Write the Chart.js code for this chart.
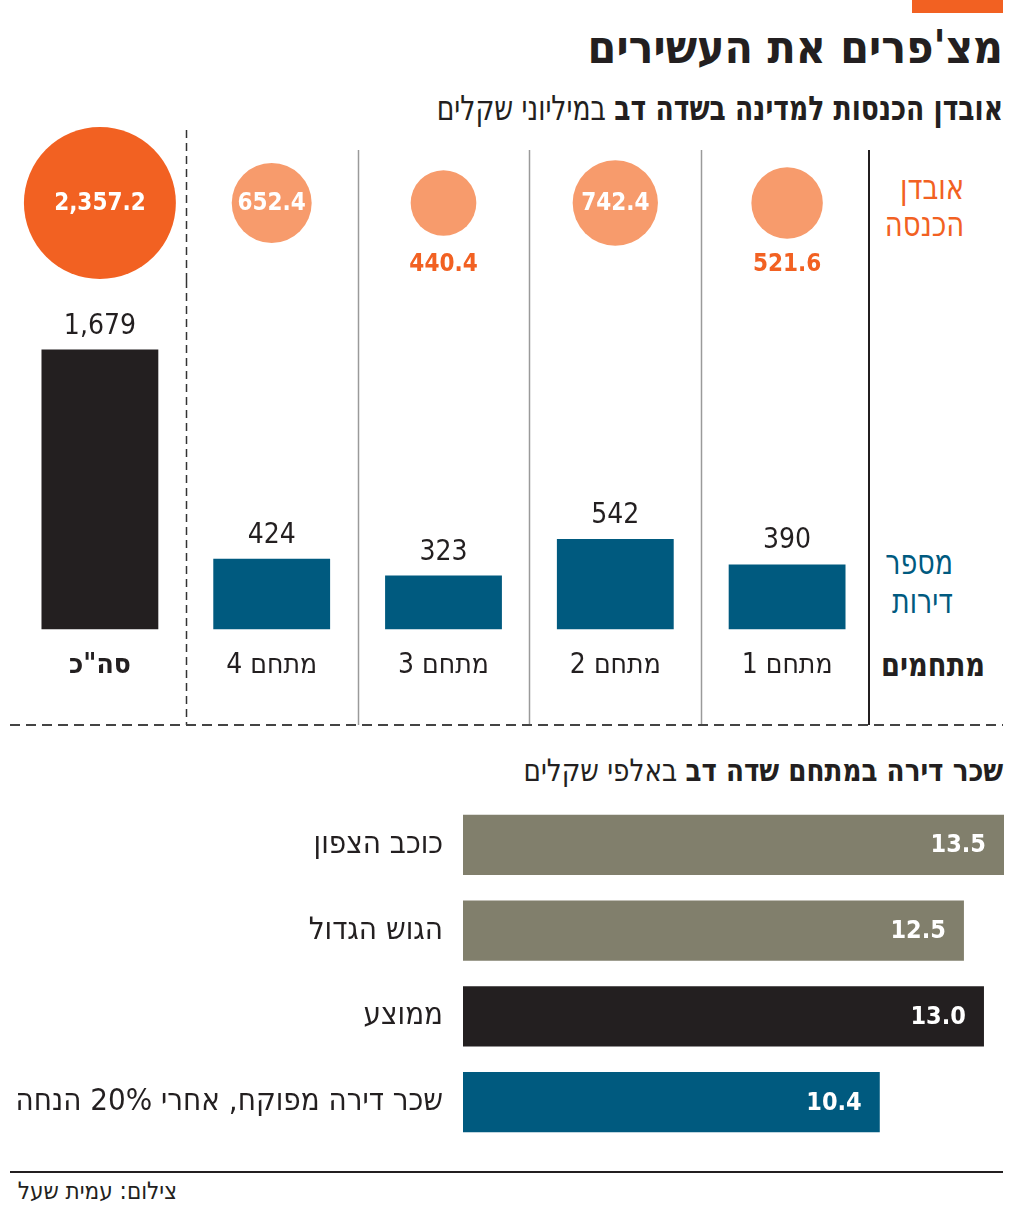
<!DOCTYPE html>
<html lang="he">
<head>
<meta charset="utf-8">
<script src="https://cdn.jsdelivr.net/npm/chart.js@4.4.1/dist/chart.umd.min.js"></script>
<style>
  html, body { margin: 0; padding: 0; background: #fff; }
  body {
    width: 1024px; height: 1211px; position: relative; overflow: hidden;
    font-family: 'DejaVu Sans Condensed', 'DejaVu Sans', sans-serif;
    color: #231f20;
  }
  .txt { position: absolute; direction: rtl; white-space: nowrap; line-height: 1; transform-origin: right center; }
  .box { position: absolute; left: 0; }
  #tag { position: absolute; left: 912px; top: 0; width: 91px; height: 13px; background: #f26122; }
  #title { right: 21px; top: 24px; font-size: 46px; font-weight: bold; }
  #subtitle { right: 21px; top: 91px; font-size: 34px; transform: scaleX(0.87); }
  #lossLbl { right: 60px; top: 169px; font-size: 34px; line-height: 37px; color: #f26122; transform: scaleX(0.9); }
  #unitsLbl { right: 71px; top: 543px; font-size: 34px; line-height: 39px; color: #005a7f; transform: scaleX(0.88); }
  #zonesLbl { right: 39px; top: 648px; font-size: 33px; font-weight: bold; transform: scaleX(0.92); }
  #rentTitle { right: 21px; top: 755px; font-size: 31px; transform: scaleX(0.94); }
  #rule { position: absolute; left: 10px; top: 1171px; width: 993px; height: 2px; background: #231f20; }
  #credit { right: 847px; top: 1179px; font-size: 24px; }
</style>
</head>
<body>
<div id="tag"></div>
<div class="txt" id="title">מצ'פרים את העשירים</div>
<div class="txt" id="subtitle"><b>אובדן הכנסות למדינה בשדה דב</b> במיליוני שקלים</div>
<div class="txt" id="lossLbl">אובדן<br>הכנסה</div>
<div class="txt" id="unitsLbl">מספר<br>דירות</div>
<div class="txt" id="zonesLbl">מתחמים</div>
<div class="txt" id="rentTitle"><b>שכר דירה במתחם שדה דב</b> באלפי שקלים</div>

<div class="box" style="top:120px"><canvas id="lossChart" width="1024" height="160"></canvas></div>
<div class="box" style="top:280px"><canvas id="unitsChart" width="1024" height="450"></canvas></div>
<div class="box" style="top:800px"><canvas id="rentChart" width="1024" height="350"></canvas></div>

<div id="rule"></div>
<div class="txt" id="credit">צילום: עמית שעל</div>

<script>
// zones, right to left in the picture
const zones = ['מתחם 1', 'מתחם 2', 'מתחם 3', 'מתחם 4', 'סה"כ'];
// revenue loss, millions of shekels
const revenueLoss = [521.6, 742.4, 440.4, 652.4, 2357.2];
// number of apartments
const apartments = [390, 542, 323, 424, 1679];

// rent in the Sde Dov compound, thousands of shekels
const rentLabels = ['כוכב הצפון', 'הגוש הגדול', 'ממוצע', 'שכר דירה מפוקח, אחרי 20% הנחה'];
const rentValues = [13.5, 12.5, 13.0, 10.4];

const FONT = "'DejaVu Sans Condensed', 'DejaVu Sans', sans-serif";
const INK = '#231f20';
const ORANGE = '#f26122';
const SALMON = '#f79b6c';
const BLUE = '#005a7f';
const OLIVE = '#817f6c';

Chart.defaults.font.family = FONT;
Chart.defaults.color = INK;

const lossColors = zones.map((z, i) => i === zones.length - 1 ? ORANGE : SALMON);
const barColors = zones.map((z, i) => i === zones.length - 1 ? INK : BLUE);
const rentColors = [OLIVE, OLIVE, INK, BLUE];

const fmt1 = v => v.toLocaleString('en-US', { minimumFractionDigits: 1, maximumFractionDigits: 1 });
const fmt0 = v => v.toLocaleString('en-US');

/**
 * Column separators: dashed one before the total, thin gray ones between zones,
 * a dark one closing the zone block on the right
 */
function drawSeparators(chart, top, dashTop, bottom) {
  const { ctx, chartArea } = chart;
  const x = chart.scales.x;
  const n = zones.length;
  ctx.save();
  for (let i = 0; i < n - 1; i++) {
    const bx = Math.round((x.getPixelForValue(i) + x.getPixelForValue(i + 1)) / 2) + 0.5;
    ctx.beginPath();
    if (i === n - 2) {
      ctx.setLineDash([8, 5]);
      ctx.strokeStyle = '#333';
      ctx.lineWidth = 1.5;
      ctx.moveTo(bx, dashTop);
    } else {
      ctx.setLineDash([]);
      ctx.strokeStyle = '#9a9a9a';
      ctx.lineWidth = 1.5;
      ctx.moveTo(bx, top);
    }
    ctx.lineTo(bx, bottom);
    ctx.stroke();
  }
  ctx.setLineDash([]);
  ctx.strokeStyle = INK;
  ctx.lineWidth = 2;
  ctx.beginPath();
  ctx.moveTo(chartArea.right - 4, top);
  ctx.lineTo(chartArea.right - 4, bottom);
  ctx.stroke();
  ctx.restore();
}

const lossPlugin = {
  id: 'lossLabels',
  afterDatasetsDraw(chart) {
    drawSeparators(chart, 30, 10, chart.height);
    const { ctx } = chart;
    const meta = chart.getDatasetMeta(0);
    ctx.save();
    ctx.textAlign = 'center';
    ctx.textBaseline = 'middle';
    meta.data.forEach((pt, i) => {
      const r = pt.options.radius;
      const inside = r >= 38;
      ctx.fillStyle = inside ? '#fff' : ORANGE;
      ctx.font = `bold 24px ${FONT}`;
      ctx.fillText(fmt1(revenueLoss[i]), pt.x, inside ? pt.y + 1 : pt.y + 62);
    });
    ctx.restore();
  }
};

const unitsPlugin = {
  id: 'unitsLabels',
  afterDatasetsDraw(chart) {
    drawSeparators(chart, 0, 0, 445);
    const { ctx } = chart;
    ctx.save();
    ctx.setLineDash([10, 6]);
    ctx.strokeStyle = '#444';
    ctx.lineWidth = 2;
    ctx.beginPath();
    ctx.moveTo(10, 445);
    ctx.lineTo(1003, 445);
    ctx.stroke();
    ctx.setLineDash([]);

    ctx.textAlign = 'center';
    ctx.textBaseline = 'alphabetic';
    ctx.fillStyle = INK;
    ctx.font = `28px ${FONT}`;
    chart.getDatasetMeta(0).data.forEach((bar, i) => {
      ctx.fillText(fmt0(apartments[i]), bar.x, bar.y - 16);
    });
    ctx.restore();
  }
};

const rentPlugin = {
  id: 'rentLabels',
  afterDatasetsDraw(chart) {
    const { ctx } = chart;
    ctx.save();
    ctx.textAlign = 'right';
    ctx.textBaseline = 'middle';
    ctx.fillStyle = '#fff';
    ctx.font = `bold 25px ${FONT}`;
    chart.getDatasetMeta(0).data.forEach((bar, i) => {
      ctx.fillText(rentValues[i].toFixed(1), bar.x - 18, bar.y + 1);
    });
    ctx.restore();
  }
};

const common = {
  responsive: false,
  animation: false,
  events: [],
  plugins: { legend: { display: false }, tooltip: { enabled: false } },
};

new Chart(document.getElementById('lossChart'), {
  type: 'bubble',
  data: {
    datasets: [{
      data: zones.map((z, i) => ({ x: z, y: 0, r: Math.sqrt(revenueLoss[i]) * 1.565 })),
      backgroundColor: lossColors,
      borderWidth: 0,
      clip: false,
    }]
  },
  options: {
    ...common,
    layout: { autoPadding: false, padding: { left: 14, right: 151, top: 10, bottom: 4 } },
    scales: {
      x: { type: 'category', labels: zones, reverse: true, offset: true, display: false },
      y: { min: -1, max: 1, display: false },
    }
  },
  plugins: [lossPlugin]
});

new Chart(document.getElementById('unitsChart'), {
  type: 'bar',
  data: {
    labels: zones,
    datasets: [{
      data: apartments,
      backgroundColor: barColors,
      barPercentage: 0.68,
      categoryPercentage: 1,
    }]
  },
  options: {
    ...common,
    layout: { autoPadding: false, padding: { left: 14, right: 151, top: 0, bottom: 27 } },
    scales: {
      x: {
        reverse: true,
        grid: { display: false, drawTicks: false },
        border: { display: false },
        ticks: {
          padding: 20,
          color: INK,
          font: (c) => ({ size: 28, weight: c.index === zones.length - 1 ? 'bold' : 'normal' }),
        }
      },
      y: { min: 0, max: 2096, display: false },
    }
  },
  plugins: [unitsPlugin]
});

new Chart(document.getElementById('rentChart'), {
  type: 'bar',
  data: {
    labels: rentLabels,
    datasets: [{
      data: rentValues,
      backgroundColor: rentColors,
      barPercentage: 0.7,
      categoryPercentage: 1,
    }]
  },
  options: {
    ...common,
    indexAxis: 'y',
    layout: { autoPadding: false, padding: { left: 0, right: 20, top: 2, bottom: 5 } },
    scales: {
      x: { min: 0, max: 13.5, display: false },
      y: {
        grid: { display: false, drawTicks: false },
        border: { display: false },
        ticks: { padding: 20, color: INK, font: { size: 31 } },
        afterFit: (scale) => {
          scale.width = 463;
          scale.paddingTop = 0;
          scale.paddingBottom = 0;
        },
      }
    }
  },
  plugins: [rentPlugin]
});
</script>
</body>
</html>
